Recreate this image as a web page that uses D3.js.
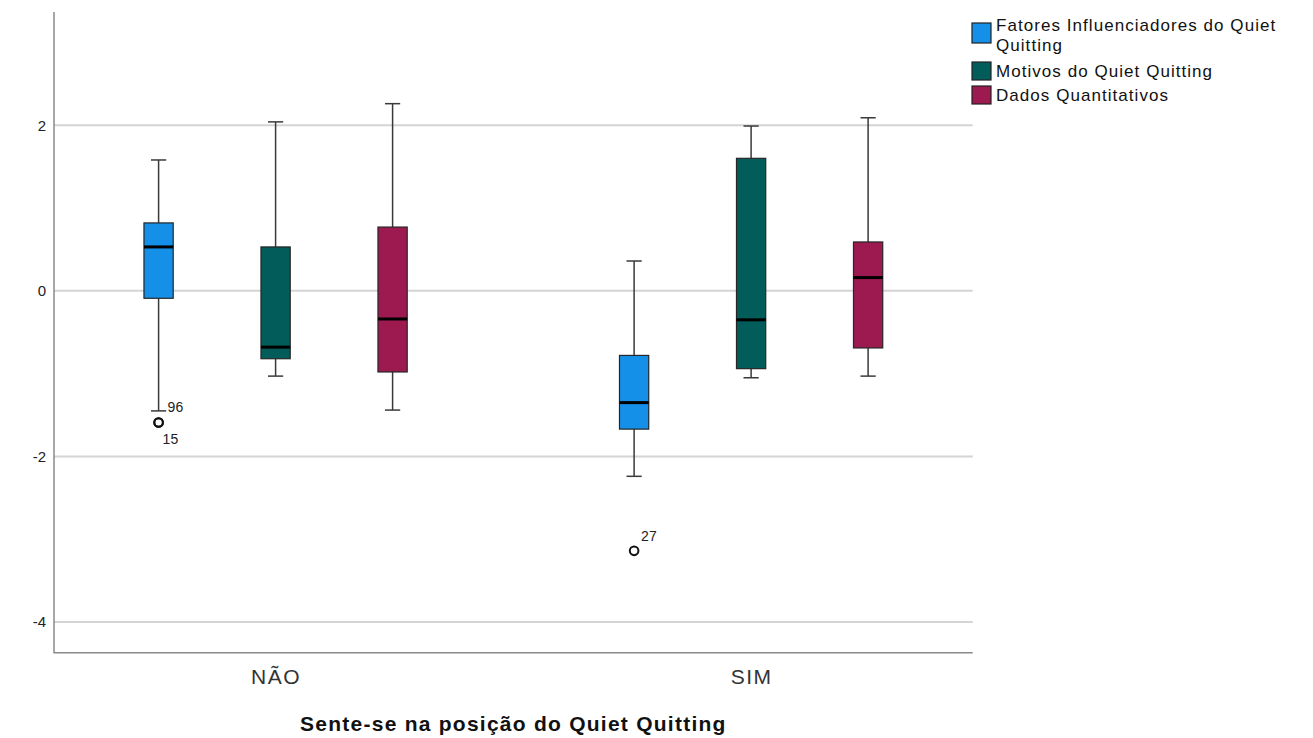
<!DOCTYPE html>
<html>
<head>
<meta charset="utf-8">
<script src="https://cdn.jsdelivr.net/npm/d3@7"></script>
<style>
  html, body { margin: 0; padding: 0; background: #fff; }
  svg { display: block; font-family: "Liberation Sans", Arial, sans-serif; }
</style>
</head>
<body>
<svg id="chart" width="1313" height="738"></svg>
<script>
// Groups on the x axis and the three variables compared within each group
const categories = ["NÃO", "SIM"];
const seriesNames = [
  "Fatores Influenciadores do Quiet Quitting",
  "Motivos do Quiet Quitting",
  "Dados Quantitativos"
];
const seriesColors = ["#1590e8", "#015c5a", "#9c1a50"];

// Five-number summaries, one row per category, one entry per series
const whiskerLow  = [[-1.45, -1.03, -1.44], [-2.24, -1.05, -1.03]];
const quartile1   = [[-0.09, -0.82, -0.98], [-1.67, -0.94, -0.69]];
const medians     = [[ 0.53, -0.68, -0.34], [-1.35, -0.35,  0.16]];
const quartile3   = [[ 0.82,  0.53,  0.77], [-0.78,  1.60,  0.59]];
const whiskerHigh = [[ 1.58,  2.04,  2.26], [ 0.36,  1.99,  2.09]];

// Outlying cases: group, series index, value, case number
const outlierCategory = ["NÃO", "NÃO", "SIM"];
const outlierSeries   = [0, 0, 0];
const outlierValue    = [-1.59, -1.59, -3.14];
const outlierCase     = ["96", "15", "27"];

const yTicks = [-4, -2, 0, 2];
const xTitle = "Sente-se na posição do Quiet Quitting";

const plot = { left: 54, right: 972.7, top: 12, bottom: 652.7 };
const svg = d3.select("#chart");

const x = d3.scalePoint().domain(categories)
  .range([plot.left, plot.right]).padding(0.466);
const inner = d3.scaleBand().domain(d3.range(seriesNames.length))
  .range([-175.5, 175.5]).paddingInner(0.75).paddingOuter(0.375);
const y = d3.scaleLinear().domain([-4.37, 3.367]).range([plot.bottom, plot.top]);

// Horizontal gridlines
svg.append("g").selectAll("line").data(yTicks).join("line")
  .attr("x1", plot.left).attr("x2", plot.right)
  .attr("y1", d => y(d)).attr("y2", d => y(d))
  .attr("stroke", "#d4d4d4").attr("stroke-width", 2);

// Y axis: labels only, no tick marks; plain hyphen for negatives
const yAxis = svg.append("g").attr("transform", `translate(${plot.left},0)`)
  .call(d3.axisLeft(y).tickValues(yTicks).tickSize(0).tickPadding(8).tickFormat(d => String(d)));
yAxis.select(".domain").remove();
yAxis.selectAll("text").attr("font-size", 15).attr("fill", "#222")
  .attr("font-family", "Liberation Sans, Arial, sans-serif");

// X axis: category labels under the plot
const xAxis = svg.append("g").attr("transform", `translate(0,${plot.bottom})`)
  .call(d3.axisBottom(x).tickSize(0).tickPadding(16));
xAxis.select(".domain").remove();
xAxis.selectAll("text").attr("font-size", 21).attr("fill", "#333")
  .attr("letter-spacing", "1.5px")
  .attr("font-family", "Liberation Sans, Arial, sans-serif");

// Axis frame (left and bottom)
svg.append("path")
  .attr("d", `M${plot.left},${plot.top}V${plot.bottom}H${plot.right}`)
  .attr("fill", "none").attr("stroke", "#8a8a8a").attr("stroke-width", 1.5);

// Box plots
const boxes = [];
categories.forEach((c, ci) => {
  seriesNames.forEach((s, si) => {
    boxes.push({
      c, si,
      lo: whiskerLow[ci][si], q1: quartile1[ci][si], med: medians[ci][si],
      q3: quartile3[ci][si], hi: whiskerHigh[ci][si]
    });
  });
});

const bw = inner.bandwidth();
const capW = bw * 0.52;
const g = svg.append("g").selectAll("g").data(boxes).join("g")
  .attr("transform", d => `translate(${x(d.c) + inner(d.si) + bw / 2},0)`);

// Whisker stems
g.append("line").attr("x1", 0).attr("x2", 0)
  .attr("y1", d => y(d.hi)).attr("y2", d => y(d.q3))
  .attr("stroke", "#3a3a3a").attr("stroke-width", 1.5);
g.append("line").attr("x1", 0).attr("x2", 0)
  .attr("y1", d => y(d.q1)).attr("y2", d => y(d.lo))
  .attr("stroke", "#3a3a3a").attr("stroke-width", 1.5);
// Whisker caps
g.append("line").attr("x1", -capW / 2).attr("x2", capW / 2)
  .attr("y1", d => y(d.hi)).attr("y2", d => y(d.hi))
  .attr("stroke", "#3a3a3a").attr("stroke-width", 1.5);
g.append("line").attr("x1", -capW / 2).attr("x2", capW / 2)
  .attr("y1", d => y(d.lo)).attr("y2", d => y(d.lo))
  .attr("stroke", "#3a3a3a").attr("stroke-width", 1.5);
// Interquartile box
g.append("rect").attr("x", -bw / 2).attr("width", bw)
  .attr("y", d => y(d.q3)).attr("height", d => y(d.q1) - y(d.q3))
  .attr("fill", d => seriesColors[d.si])
  .attr("stroke", "#262626").attr("stroke-width", 1.2);
// Median
g.append("line").attr("x1", -bw / 2).attr("x2", bw / 2)
  .attr("y1", d => y(d.med)).attr("y2", d => y(d.med))
  .attr("stroke", "#000").attr("stroke-width", 3);

// Outliers with case labels
const outliers = outlierValue.map((v, i) => ({
  c: outlierCategory[i], si: outlierSeries[i], v, label: outlierCase[i]
}));
const labelOffsets = { "96": [9, -10.5], "15": [4, 21.5], "27": [7, -10] };
const og = svg.append("g").selectAll("g").data(outliers).join("g")
  .attr("transform", d => `translate(${x(d.c) + inner(d.si) + bw / 2},${y(d.v)})`);
og.append("circle").attr("r", 4.3)
  .attr("fill", "none").attr("stroke", "#111").attr("stroke-width", 2);
og.append("text")
  .attr("x", d => labelOffsets[d.label][0]).attr("y", d => labelOffsets[d.label][1])
  .attr("font-size", 14).attr("fill", "#222").text(d => d.label);

// X axis title
svg.append("text").attr("x", (plot.left + plot.right) / 2).attr("y", 731)
  .attr("text-anchor", "middle").attr("font-size", 21).attr("font-weight", "bold")
  .attr("letter-spacing", "1.25px").attr("fill", "#111").text(xTitle);

// Legend
const legendItems = [
  { si: 0, lines: ["Fatores Influenciadores do Quiet", "Quitting"], y0: 23, h: 20, base: [30.5, 50.5] },
  { si: 1, lines: ["Motivos do Quiet Quitting"], y0: 62, h: 18, base: [77] },
  { si: 2, lines: ["Dados Quantitativos"], y0: 86, h: 18, base: [101] }
];
const lg = svg.append("g").selectAll("g").data(legendItems).join("g");
lg.append("rect").attr("x", 972).attr("y", d => d.y0).attr("width", 19).attr("height", d => d.h)
  .attr("fill", d => seriesColors[d.si]).attr("stroke", "#222").attr("stroke-width", 1.2);
lg.each(function (d) {
  d3.select(this).selectAll("text").data(d.lines).join("text")
    .attr("x", 996).attr("y", (t, i) => d.base[i])
    .attr("font-size", 17).attr("letter-spacing", "1.05px").attr("fill", "#111")
    .text(t => t);
});
</script>
</body>
</html>
